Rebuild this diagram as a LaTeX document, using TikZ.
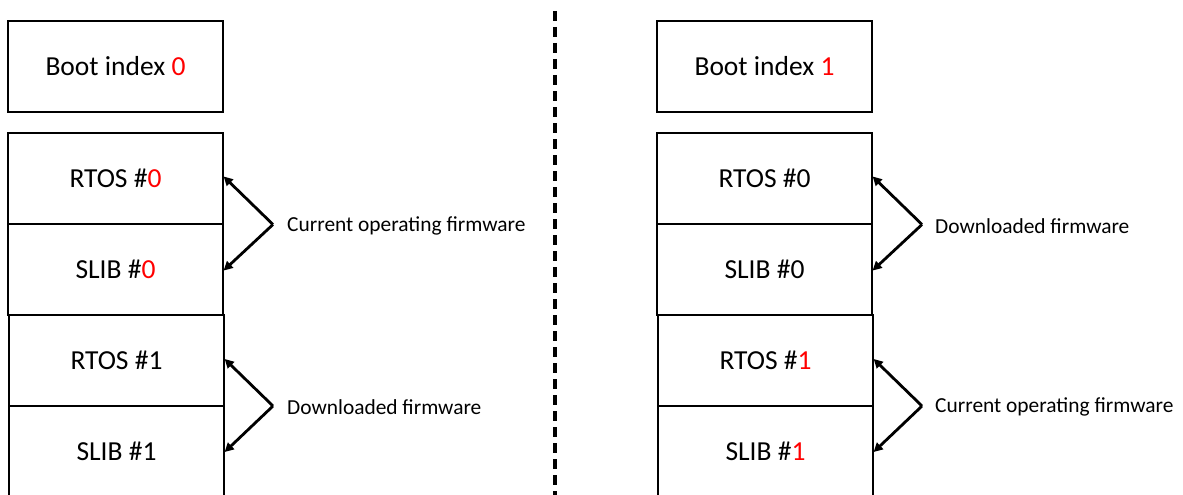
\documentclass[tikz,border=0pt]{standalone}
\usepackage{fontspec}
\setmainfont{Carlito}
\usetikzlibrary{arrows.meta}
\definecolor{hl}{RGB}{255,0,0}
\begin{document}
\begin{tikzpicture}[x=1pt,y=-1pt,
  membox/.style={draw=black, line width=1.3pt, rectangle, minimum width=215pt, minimum height=91pt, inner sep=0pt,
    font=\fontsize{27.5}{33}\selectfont},
  arr/.style={line width=2.8pt, -{Triangle[length=9pt,width=9pt]}},
  lbl/.style={anchor=west, inner sep=0pt, font=\fontsize{21.4}{26}\selectfont},
  divider/.style={line width=3.4pt, dash pattern=on 10pt off 6pt}
]
\useasboundingbox (0,0) rectangle (1183,495);
\clip (0,0) rectangle (1183,495);
\fill[white] (0,0) rectangle (1183,495);

% left column
\node[membox] (bootL) at (115.5,66.5) {Boot index \textcolor{hl}{0}};
\node[membox] (rtos0L) at (115.5,178.5) {RTOS \#\textcolor{hl}{0}};
\node[membox] (slib0L) at (115.5,269.5) {SLIB \#\textcolor{hl}{0}};
\node[membox] (rtos1L) at (116.5,360.5) {RTOS \#1};
\node[membox] (slib1L) at (116.5,451) {SLIB \#1};

% right column
\node[membox] (bootR) at (764.5,66.5) {Boot index \textcolor{hl}{1}};
\node[membox] (rtos0R) at (764.5,178.5) {RTOS \#0};
\node[membox] (slib0R) at (764.5,269.5) {SLIB \#0};
\node[membox] (rtos1R) at (765.5,360.5) {RTOS \#\textcolor{hl}{1}};
\node[membox] (slib1R) at (765.5,451) {SLIB \#\textcolor{hl}{1}};

% divider
\coordinate (dtop) at (555,11);
\coordinate (dbot) at (555,500);
\draw[divider] (dtop) -- (dbot);

% arrow vertices
\coordinate (vL1) at (273,224.5);
\coordinate (vL2) at (273,406);
\coordinate (vR1) at (922,224.5);
\coordinate (vR2) at (922,406);

\draw[arr] (vL1) -- ([yshift=2pt]rtos0L.east);
\draw[arr] (vL1) -- ([yshift=-1pt]slib0L.east);
\draw[arr] (vL2) -- ([yshift=1.5pt]rtos1L.east);
\draw[arr] (vL2) -- ([yshift=-1pt]slib1L.east);
\draw[arr] (vR1) -- ([yshift=2pt]rtos0R.east);
\draw[arr] (vR1) -- ([yshift=-1pt]slib0R.east);
\draw[arr] (vR2) -- ([yshift=1.5pt]rtos1R.east);
\draw[arr] (vR2) -- ([yshift=-1pt]slib1R.east);

\node[lbl] (lL1) at (287,226) {Current operating firmware};
\node[lbl] (lL2) at (287,407) {Downloaded firmware};
\node[lbl] (lR1) at (935,226) {Downloaded firmware};
\node[lbl] (lR2) at (935,407) {Current operating firmware};
\end{tikzpicture}
\end{document}
